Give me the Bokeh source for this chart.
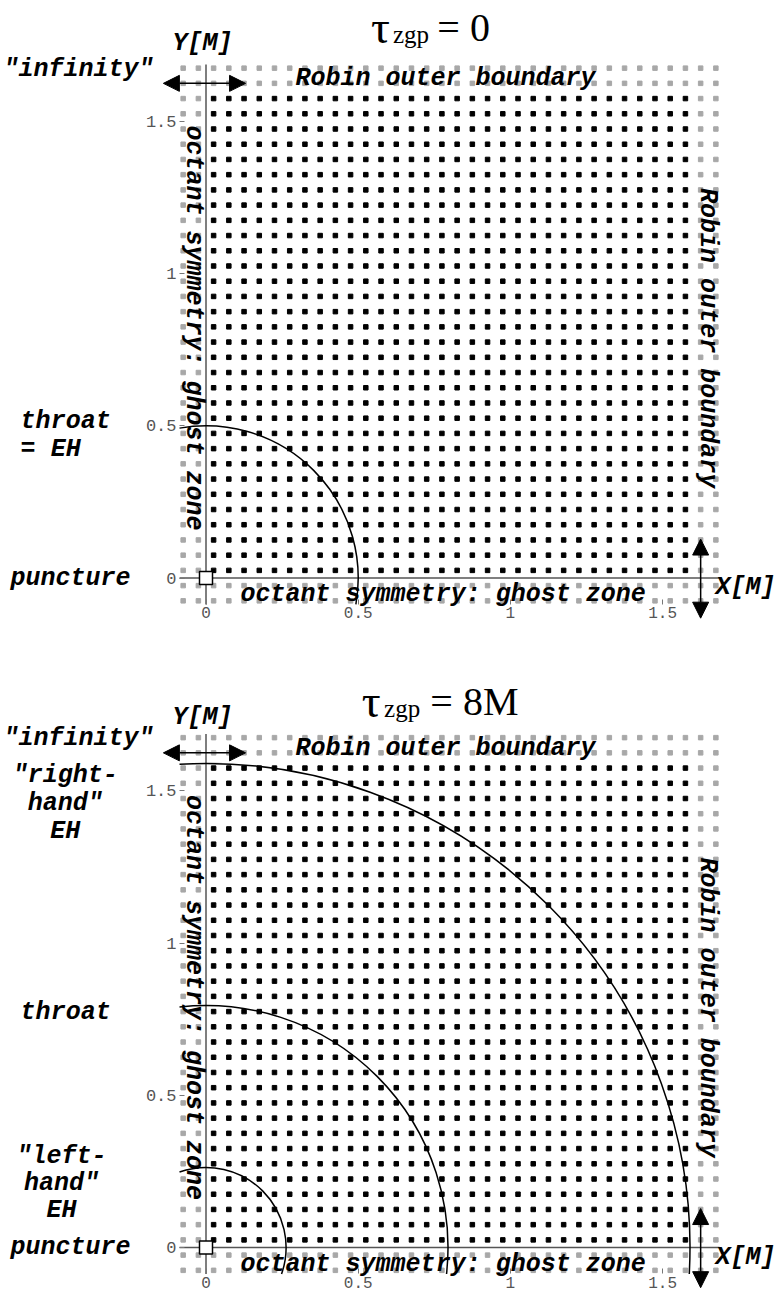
import math
from itertools import product

from bokeh.plotting import figure
from bokeh.layouts import column
from bokeh.models import Label, Arrow, NormalHead, FixedTicker
from bokeh.embed import file_html
from bokeh.resources import INLINE

# ---------------- data ----------------
interior = [0.025, 0.075, 0.125, 0.175, 0.225, 0.275, 0.325, 0.375, 0.425, 0.475,
            0.525, 0.575, 0.625, 0.675, 0.725, 0.775, 0.825, 0.875, 0.925, 0.975,
            1.025, 1.075, 1.125, 1.175, 1.225, 1.275, 1.325, 1.375, 1.425, 1.475,
            1.525, 1.575]
ghost_zone = [-0.075, -0.025]
outer_boundary = [1.625, 1.675]
box_edges = [-0.087, 1.687]
tick_values = [0, 0.5, 1, 1.5]
tick_labels = ["0", "0.5", "1", "1.5"]
title_values = ["0", "8M"]
radii_tau0 = [0.5]
radii_tau8 = [0.263, 0.795, 1.59]

all_coords = ghost_zone + interior + outer_boundary
inner_x, inner_y, outer_x, outer_y = [], [], [], []
for gx, gy in product(all_coords, all_coords):
    if gx in interior and gy in interior:
        inner_x.append(gx); inner_y.append(gy)
    else:
        outer_x.append(gx); outer_y.append(gy)

MONO = "Liberation Mono"
SERIF = "Liberation Serif"
SCALE = 304.4          # pixels per unit M
FIG_W = 774


def lab(p, text, x, y, size=25, align="center", baseline="middle", angle=0.0,
        font=MONO, style="bold italic", color="black"):
    p.add_layout(Label(x=x, y=y, text=text, text_font=font, text_font_style=style,
                       text_font_size=f"{size}px", text_align=align,
                       text_baseline=baseline, angle=angle, text_color=color))


def make_panel(height, origin_px_y):
    x0 = -205.5 / SCALE
    x1 = x0 + FIG_W / SCALE
    y1 = origin_px_y / SCALE
    y0 = y1 - height / SCALE
    p = figure(width=FIG_W, height=height, x_range=(x0, x1), y_range=(y0, y1),
               output_backend="svg", toolbar_location=None, title=None,
               min_border=0, min_border_left=0, min_border_right=0,
               min_border_top=0, min_border_bottom=0)
    p.outline_line_color = None
    p.grid.visible = False
    overrides = {v: t for v, t in zip(tick_values, tick_labels)}
    for ax in (p.xaxis[0], p.yaxis[0]):
        ax.fixed_location = box_edges[0]
        ax.ticker = FixedTicker(ticks=tick_values)
        ax.major_label_overrides = overrides
        ax.axis_line_color = None
        ax.major_tick_in = 5
        ax.major_tick_out = 0
        ax.major_tick_line_color = "#777777"
        ax.minor_tick_line_color = None
        ax.major_label_text_color = "#555555"
        ax.major_label_text_font = MONO
        ax.major_label_text_font_style = "normal"
    p.yaxis.major_label_text_font_size = "17px"
    p.yaxis.major_label_standoff = 3
    p.xaxis.major_label_text_font_size = "16px"
    p.xaxis.major_label_standoff = 3

    # grid points
    p.scatter(outer_x, outer_y, marker="square", size=4.5, color="#a8a8a8")
    p.scatter(inner_x, inner_y, marker="square", size=4.5, color="black")
    # coordinate axes through the origin, spanning the grid box
    p.segment(x0=[box_edges[0], 0], y0=[0, box_edges[0]],
              x1=[box_edges[1], 0], y1=[0, box_edges[1]],
              line_color="#555555", line_width=1.5)
    return p


def decorate(p, radii, tval, title_pos, extra_labels):
    for r in radii:
        cut = math.asin(-box_edges[0] / r)
        p.arc(x=0, y=0, radius=r, start_angle=-cut, end_angle=math.pi / 2 + cut,
              line_color="black", line_width=1.5)
    # puncture
    p.scatter([0], [0], marker="square", size=13, fill_color="white",
              line_color="black", line_width=1.5)
    # arrows
    head = dict(size=16, fill_color="black", line_color="black")
    p.add_layout(Arrow(start=NormalHead(**head), end=NormalHead(**head),
                       x_start=-0.14, y_start=1.625, x_end=0.13, y_end=1.625,
                       line_width=1.5, line_color="black"))
    p.add_layout(Arrow(start=NormalHead(**head), end=NormalHead(**head),
                       x_start=1.625, y_start=-0.132, x_end=1.625, y_end=0.128,
                       line_width=1.5, line_color="black"))
    # title  tau_zgp = ...
    tx, sx, ex, by = title_pos
    lab(p, "\u03c4", tx, by, size=47, align="left", baseline="alphabetic", font=SERIF, style="normal")
    lab(p, "zgp", sx, by - 0.024, size=25, align="left", baseline="alphabetic", font=SERIF, style="normal")
    lab(p, "= " + tval, ex, by, size=40, align="left", baseline="alphabetic", font=SERIF, style="normal")
    # common labels
    lab(p, "X[M]", 1.772, -0.032)
    lab(p, "\"infinity\"", -0.419, 1.672)
    lab(p, "Robin outer boundary", 0.787, 1.640)
    lab(p, "octant symmetry: ghost zone", 0.779, -0.055)
    lab(p, "octant symmetry: ghost zone", -0.041, 0.821, angle=-math.pi / 2)
    lab(p, "Robin outer boundary", 1.646, 0.788, angle=-math.pi / 2)
    lab(p, "puncture", -0.445, 0.0)
    for text, x, y, align in extra_labels:
        lab(p, text, x, y, align=align)


p1 = make_panel(670, 577.5)
decorate(p1, radii_tau0, title_values[0], (0.542, 0.614, 0.760, 1.810),
         [("Y[M]", -0.0115, 1.756, "center"),
          ("throat", -0.609, 0.513, "left"),
          ("= EH", -0.609, 0.422, "left")])

p2 = make_panel(626, 577.0)
decorate(p2, radii_tau8, title_values[1], (0.512, 0.585, 0.737, 1.795),
         [("Y[M]", -0.0115, 1.741, "center"),
          ("\"right-", -0.462, 1.551, "center"),
          ("hand\"", -0.462, 1.459, "center"),
          ("EH", -0.462, 1.367, "center"),
          ("throat", -0.609, 0.772, "left"),
          ("\"left-", -0.475, 0.299, "center"),
          ("hand\"", -0.475, 0.210, "center"),
          ("EH", -0.475, 0.122, "center")])

layout = column(p1, p2, spacing=0)
open("out.html", "w").write(file_html(layout, INLINE))
